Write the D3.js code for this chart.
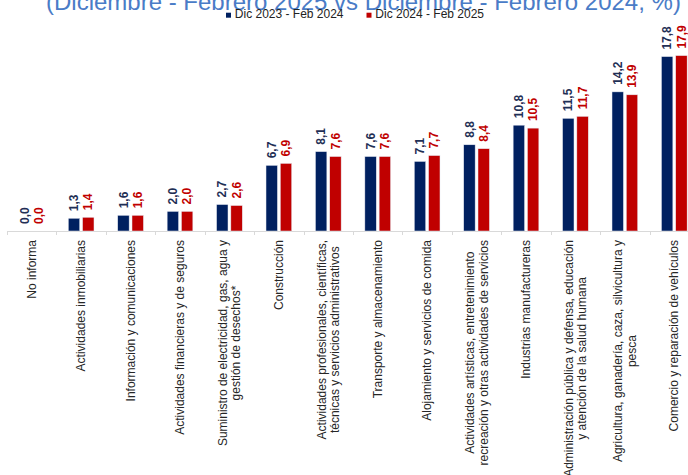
<!DOCTYPE html>
<html lang="es">
  <head>
    <meta charset="UTF-8" />
    <title>Chart</title>
    <style>
      body { margin: 0; background: #fff; }
      svg { display: block; font-family: "Liberation Sans", Arial, sans-serif; }
    </style>
  </head>
  <body>
    <div id="chart"></div>
    <script src="https://cdn.jsdelivr.net/npm/d3@7"></script>
    <script>
      const categories = [
        ["No informa"],
        ["Actividades inmobiliarias"],
        ["Información y comunicaciones"],
        ["Actividades financieras y de seguros"],
        ["Suministro de electricidad, gas, agua y", "gestión de desechos*"],
        ["Construcción"],
        ["Actividades profesionales, científicas,", "técnicas y servicios administrativos"],
        ["Transporte y almacenamiento"],
        ["Alojamiento y servicios de comida"],
        ["Actividades artísticas, entretenimiento", "recreación y otras actividades de servicios"],
        ["Industrias manufactureras"],
        ["Administración pública y defensa, educación", "y atención de la salud humana"],
        ["Agricultura, ganadería, caza, silvicultura y", "pesca"],
        ["Comercio y reparación de vehículos"]
      ];
      const seriesNames = ["Dic 2023 - Feb 2024", "Dic 2024 - Feb 2025"];
      const dic2023 = [0.0, 1.3, 1.6, 2.0, 2.7, 6.7, 8.1, 7.6, 7.1, 8.8, 10.8, 11.5, 14.2, 17.8];
      const dic2024 = [0.0, 1.4, 1.6, 2.0, 2.6, 6.9, 7.6, 7.6, 7.7, 8.4, 10.5, 11.7, 13.9, 17.9];
      const title = "(Diciembre - Febrero 2025 vs Diciembre - Febrero 2024, %)";

      const width = 688, height = 475;
      const barColors = ["#002060", "#C00000"];
      const labelColors = ["#1f2f55", "#C00000"];
      const fmt = v => v.toFixed(1).replace(".", ",");

      const svg = d3.select("#chart").append("svg")
        .attr("width", width).attr("height", height);

      const baseY = 231;
      const y = d3.scaleLinear().domain([0, 17.8]).range([baseY, 56.6]);

      const x0 = d3.scaleBand()
        .domain(d3.range(categories.length))
        .range([7, 699])
        .paddingInner(0.48)
        .paddingOuter(0.24);
      const x1 = d3.scaleBand().domain([0, 1]).range([0, x0.bandwidth()]).paddingInner(0.2);
      const step = x0.step();
      const left = 7;

      // title (cut at the top like the source)
      svg.append("text")
        .attr("x", 46).attr("y", 9.5)
        .attr("font-size", 24)
        .attr("fill", "#4a7cc7")
        .text(title);

      // legend
      const legendX = [226, 366.5];
      seriesNames.forEach((name, i) => {
        svg.append("rect")
          .attr("x", legendX[i]).attr("y", 12.7)
          .attr("width", 5).attr("height", 5)
          .attr("fill", barColors[i]);
        svg.append("text")
          .attr("x", legendX[i] + 8.8).attr("y", 18.2)
          .attr("font-size", 12)
          .attr("fill", "#222")
          .text(name);
      });

      // axis line and ticks
      const axis = svg.append("g").attr("stroke", "#d9d9d9").attr("stroke-width", 1);
      axis.append("line")
        .attr("x1", left).attr("x2", width)
        .attr("y1", baseY + 0.5).attr("y2", baseY + 0.5);
      d3.range(categories.length + 1).forEach(i => {
        const tx = Math.round(left + i * step) + 0.5;
        axis.append("line")
          .attr("x1", tx).attr("x2", tx)
          .attr("y1", baseY).attr("y2", baseY + 4);
      });

      const series = [dic2023, dic2024];
      const groups = svg.append("g");
      series.forEach((vals, s) => {
        groups.selectAll(null)
          .data(vals)
          .join("rect")
          .attr("x", (d, i) => x0(i) + x1(s))
          .attr("width", x1.bandwidth())
          .attr("y", d => y(d))
          .attr("height", d => baseY - y(d))
          .attr("fill", barColors[s])
          .attr("stroke", "#e6e9f2")
          .attr("stroke-width", 0.5);

        groups.selectAll(null)
          .data(vals)
          .join("text")
          .attr("transform", (d, i) =>
            `translate(${x0(i) + x1(s) + x1.bandwidth() / 2},${y(d) - 7}) rotate(-90)`)
          .attr("dy", "0.35em")
          .attr("font-size", 12)
          .attr("font-weight", "bold")
          .attr("fill", labelColors[s])
          .text(d => fmt(d));
      });

      // category labels, rotated, top aligned at y = 240
      const labelTop = 240, lineGap = 13.5;
      categories.forEach((lines, i) => {
        const cx = x0(i) + x0.bandwidth() / 2;
        const g = svg.append("g").attr("transform", `translate(${cx},${labelTop}) rotate(-90)`);
        const texts = lines.map((ln, k) => g.append("text")
          .attr("y", (k - (lines.length - 1) / 2) * lineGap)
          .attr("dy", "0.35em")
          .attr("text-anchor", "middle")
          .attr("font-size", 12)
          .attr("fill", "#262626")
          .text(ln));
        const maxLen = d3.max(texts, t => t.node().getComputedTextLength());
        texts.forEach(t => t.attr("x", -maxLen / 2));
      });
    </script>
  </body>
</html>
